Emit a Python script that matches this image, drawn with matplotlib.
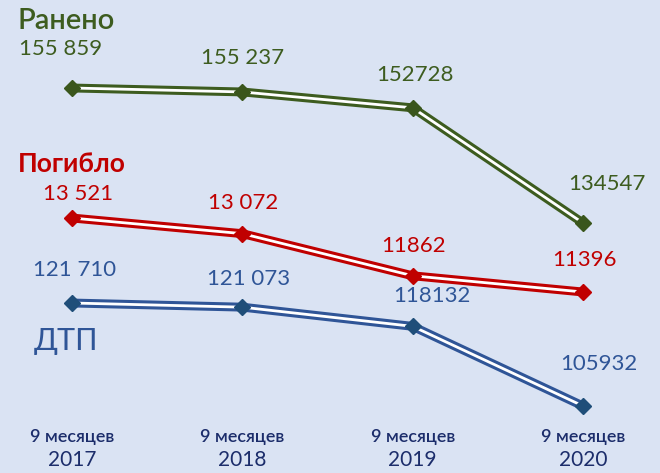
import matplotlib
matplotlib.use("Agg")
import matplotlib.pyplot as plt

# ─── Data ─────────────────────────────────────────────────────────────────────

periods = ["9 месяцев\n2017", "9 месяцев\n2018", "9 месяцев\n2019", "9 месяцев\n2020"]

injured = [155859, 155237, 152728, 134547]
injured_labels = ["155 859", "155 237", "152728", "134547"]

killed = [13521, 13072, 11862, 11396]
killed_labels = ["13 521", "13 072", "11862", "11396"]

accidents = [121710, 121073, 118132, 105932]
accidents_labels = ["121 710", "121 073", "118132", "105932"]

# ─── Style ────────────────────────────────────────────────────────────────────

BG = "#dae3f3"
GREEN, GREEN_MK = "#3d5c1f", "#3a561c"
RED, RED_MK = "#c00000", "#c00000"
BLUE, BLUE_MK = "#2f5597", "#1f4e79"
NAVY = "#1c2d6b"
FONT = "Lato"

fig = plt.figure(figsize=(6.6, 4.73), dpi=100)
fig.patch.set_facecolor(BG)

# each series gets its own y scale, all sharing the same x positions
series = [
    (injured, injured_labels, GREEN, GREEN_MK, (95084, 169750),
     [(-11, 39), (0, 34), (2, 33), (24, 39)]),
    (killed, killed_labels, RED, RED_MK, (6198, 19782),
     [(6, 24), (1, 31), (1, 30), (1, 32)]),
    (accidents, accidents_labels, BLUE, BLUE_MK, (95668, 168125),
     [(3, 33), (6, 28), (19, 30), (16, 42)]),
]

x = list(range(len(periods)))
for vals, labels, col, mk, ylim, offs in series:
    ax = fig.add_axes([0, 0, 1, 1], label=labels[0])
    ax.set_xlim(-0.4227, 3.452)
    ax.set_ylim(*ylim)
    ax.axis("off")
    ax.patch.set_alpha(0)
    ax.plot(x, vals, color=col, lw=6.4, solid_capstyle="butt", zorder=2)
    ax.plot(x, vals, color="white", lw=2.0, solid_capstyle="butt", zorder=3)
    ax.plot(x, vals, ls="none", marker="D", ms=8.2, color=mk, zorder=4)
    for xi, v, lab, (dx, dy) in zip(x, vals, labels, offs):
        ax.annotate(lab, xy=(xi, v), xytext=(dx, dy), textcoords="offset pixels",
                    ha="center", va="center", fontsize=16, color=col,
                    family=FONT)

# series titles
fig.text(18 / 660, 1 - 21 / 473, "Ранено", fontsize=21, color=GREEN,
         family=FONT, fontweight="semibold", ha="left", va="center")
fig.text(18 / 660, 1 - 164 / 473, "Погибло", fontsize=19, color=RED,
         family=FONT, fontweight="bold", ha="left", va="center")
fig.text(34 / 660, 1 - 341 / 473, "ДТП", fontsize=22, color=BLUE,
         family=FONT, ha="left", va="center")

# period labels along the bottom
xax = fig.axes[0]
for xi, p in zip(x, periods):
    first, second = p.split("\n")
    xax.annotate(first, xy=(xi, 0), xycoords=("data", "figure fraction"),
                 xytext=(0, 473 - 437), textcoords="offset pixels",
                 ha="center", va="center", fontsize=13, color=NAVY,
                 family=FONT, fontweight="semibold")
    xax.annotate(second, xy=(xi, 0), xycoords=("data", "figure fraction"),
                 xytext=(0, 473 - 460), textcoords="offset pixels",
                 ha="center", va="center", fontsize=15, color=NAVY, family=FONT)

fig.savefig("out.png", dpi=100, facecolor=BG)
